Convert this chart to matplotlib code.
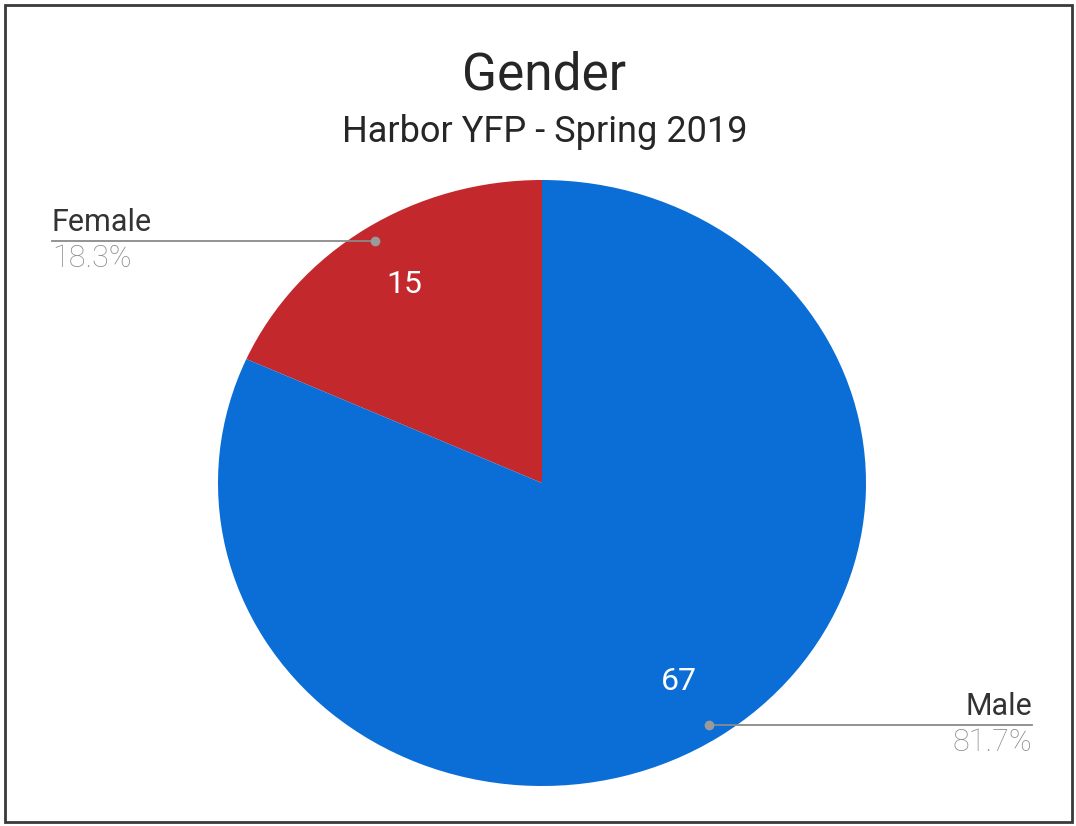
import matplotlib
matplotlib.use("Agg")
import matplotlib.pyplot as plt
from matplotlib.patches import Rectangle
from matplotlib.lines import Line2D
import numpy as np

plt.rcParams["font.family"] = ["Roboto", "DejaVu Sans"]

# data
labels = ["Female", "Male"]
counts = [15, 67]
colors = ["#c3282c", "#0a6ed6"]
title = "Gender"
subtitle = "Harbor YFP - Spring 2019"

total = sum(counts)

fig = plt.figure(figsize=(10.76, 8.26), dpi=100)
W, H = 1076, 826

# pie axes (scan is slightly stretched, so aspect is left free)
ax = fig.add_axes([218 / W, (H - 786) / H, 648 / W, 606 / H])

wedges, texts, autotexts = ax.pie(
    counts,
    colors=colors,
    startangle=90,
    counterclock=True,
    autopct=lambda p: f"{p * total / 100:.0f}",
    pctdistance=0.78,
    wedgeprops=dict(linewidth=0),
    textprops=dict(color="white", fontsize=23),
)
ax.set_aspect("auto")
ax.set_xlim(-1, 1)
ax.set_ylim(-1, 1)

# title
fig.text(0.506, 1 - 89 / H, title, ha="center", va="baseline",
         fontsize=37, color="#262626")
fig.text(0.506, 1 - 142 / H, subtitle, ha="center", va="baseline",
         fontsize=26, color="#262626")

# outside labels with leader lines
to_fig = fig.transFigure.inverted()
for w, lab, c in zip(wedges, labels, counts):
    mid = np.deg2rad((w.theta1 + w.theta2) / 2)
    px, py = 0.95 * np.cos(mid), 0.95 * np.sin(mid)
    fx, fy = to_fig.transform(ax.transData.transform((px, py)))
    pct = f"{100 * c / total:.1f}%"
    if np.cos(mid) < 0:
        x_end = 52 / W
        ha = "left"
    else:
        x_end = 1032 / W
        ha = "right"
    fig.add_artist(Line2D([fx, x_end], [fy, fy], color="#8a8a8a", lw=1.3))
    fig.add_artist(Line2D([fx], [fy], marker="o", ms=6, color="#9a9a9a", lw=0))
    fig.text(x_end, fy + 10 / H, lab, ha=ha, va="baseline",
             fontsize=22, color="#333333")
    fig.text(x_end, fy - 26 / H, pct, ha=ha, va="baseline",
             fontsize=22, color="#8c8c8c", fontweight="light")

# scan border
fig.add_artist(Rectangle((5 / W, 4 / H), 1067 / W, 817 / H,
                         transform=fig.transFigure, fill=False,
                         edgecolor="#3a3a3a", lw=2))

fig.savefig("out.png", dpi=100)
